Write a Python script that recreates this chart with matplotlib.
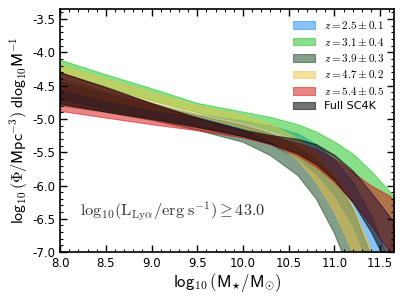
import matplotlib
matplotlib.use("Agg")
import matplotlib.pyplot as plt
from matplotlib.ticker import MultipleLocator

plt.rcParams["mathtext.fontset"] = "cm"
plt.rcParams["axes.unicode_minus"] = False

# stellar mass grid, log10(M/Msun)
mass = [8.0, 8.5, 9.0, 9.5, 10.0, 10.3, 10.6, 10.8, 11.0, 11.2, 11.4, 11.6, 11.7]

# upper / lower edge of each SMF band, log10(Phi)
z25_hi = [-4.38, -4.58, -4.76, -4.93, -5.02, -5.10, -5.22, -5.38, -5.62, -5.95, -6.45, -7.15, -7.50]
z25_lo = [-4.70, -4.85, -4.98, -5.10, -5.25, -5.38, -5.60, -5.82, -6.15, -6.60, -7.30, -8.00, -8.50]
z31_hi = [-4.11, -4.33, -4.54, -4.76, -4.89, -4.97, -5.08, -5.19, -5.34, -5.52, -5.78, -6.08, -6.25]
z31_lo = [-4.30, -4.52, -4.72, -4.90, -5.05, -5.17, -5.30, -5.40, -5.56, -5.78, -6.06, -6.40, -6.58]
z39_hi = [-4.45, -4.62, -4.80, -4.95, -5.10, -5.22, -5.42, -5.60, -5.88, -6.35, -7.05, -7.90, -8.30]
z39_lo = [-4.80, -4.90, -5.02, -5.17, -5.35, -5.55, -5.85, -6.20, -6.72, -7.40, -8.30, -9.00, -9.30]
z47_hi = [-4.19, -4.40, -4.60, -4.80, -4.95, -5.08, -5.30, -5.52, -5.85, -6.30, -6.95, -7.80, -8.30]
z47_lo = [-4.55, -4.72, -4.86, -4.96, -5.14, -5.32, -5.62, -5.95, -6.40, -7.00, -7.80, -8.60, -9.00]
z54_hi = [-4.30, -4.53, -4.77, -4.99, -5.18, -5.26, -5.36, -5.45, -5.60, -5.80, -6.00, -6.15, -6.30]
z54_lo = [-4.88, -4.98, -5.08, -5.17, -5.28, -5.38, -5.55, -5.72, -5.95, -6.25, -6.60, -7.00, -7.30]
full_hi = [-4.30, -4.52, -4.76, -4.98, -5.16, -5.24, -5.30, -5.38, -5.54, -5.78, -6.10, -6.45, -6.65]
full_lo = [-4.77, -4.89, -5.00, -5.12, -5.26, -5.37, -5.52, -5.68, -5.92, -6.25, -6.70, -7.25, -7.60]

labels = [r"$z = 2.5 \pm 0.1$", r"$z = 3.1 \pm 0.4$", r"$z = 3.9 \pm 0.3$",
          r"$z = 4.7 \pm 0.2$", r"$z = 5.4 \pm 0.5$", "Full SC4K"]

fig = plt.figure(figsize=(4.04, 3.03), dpi=100)
ax = fig.add_axes([0.149, 0.168, 0.826, 0.802])

ax.fill_between(mass, z25_lo, z25_hi, color="#1189f1", alpha=0.5, lw=0.8, label=labels[0])
ax.fill_between(mass, z31_lo, z31_hi, color="#17c117", alpha=0.5, lw=0.8, label=labels[1])
ax.fill_between(mass, z39_lo, z39_hi, color="#0b4115", alpha=0.5, lw=0.8, label=labels[2])
ax.fill_between(mass, z47_lo, z47_hi, color="#ebc141", alpha=0.5, lw=0.8, label=labels[3])
ax.fill_between(mass, z54_lo, z54_hi, color="#d40c0c", alpha=0.5, lw=0.8, label=labels[4])
ax.fill_between(mass, full_lo, full_hi, color="black", alpha=0.55, lw=0.8, label=labels[5])

ax.set_xlim(8.0, 11.65)
ax.set_ylim(-7.0, -3.35)
ax.xaxis.set_major_locator(MultipleLocator(0.5))
ax.xaxis.set_minor_locator(MultipleLocator(0.1))
ax.yaxis.set_major_locator(MultipleLocator(0.5))
ax.yaxis.set_minor_locator(MultipleLocator(0.1))
ax.tick_params(which="both", direction="in", top=True, right=True, labelsize=8.5)
ax.tick_params(which="major", length=5, width=1)
ax.tick_params(which="minor", length=2.5, width=0.8)
for s in ax.spines.values():
    s.set_linewidth(1.2)

ax.set_xlabel(r"$\mathsf{log_{10}\,(M_{\star}/M_{\odot})}$", fontsize=12, labelpad=1)
ax.set_ylabel(r"$\mathsf{log_{10}\,(\Phi/Mpc^{-3})\;dlog_{10}M^{-1}}$", fontsize=11.5, labelpad=2)

ax.text(8.22, -6.38, r"$\mathrm{log}_{10}(\mathrm{L_{Ly\alpha}/erg\;s^{-1}}) \geq 43.0$",
        fontsize=11.8, color="#333333", va="center")

ax.legend(loc="upper right", frameon=False, fontsize=8, handlelength=2.0,
          handleheight=0.65, labelspacing=0.4, borderaxespad=0.5)

fig.savefig("out.png", dpi=100)
